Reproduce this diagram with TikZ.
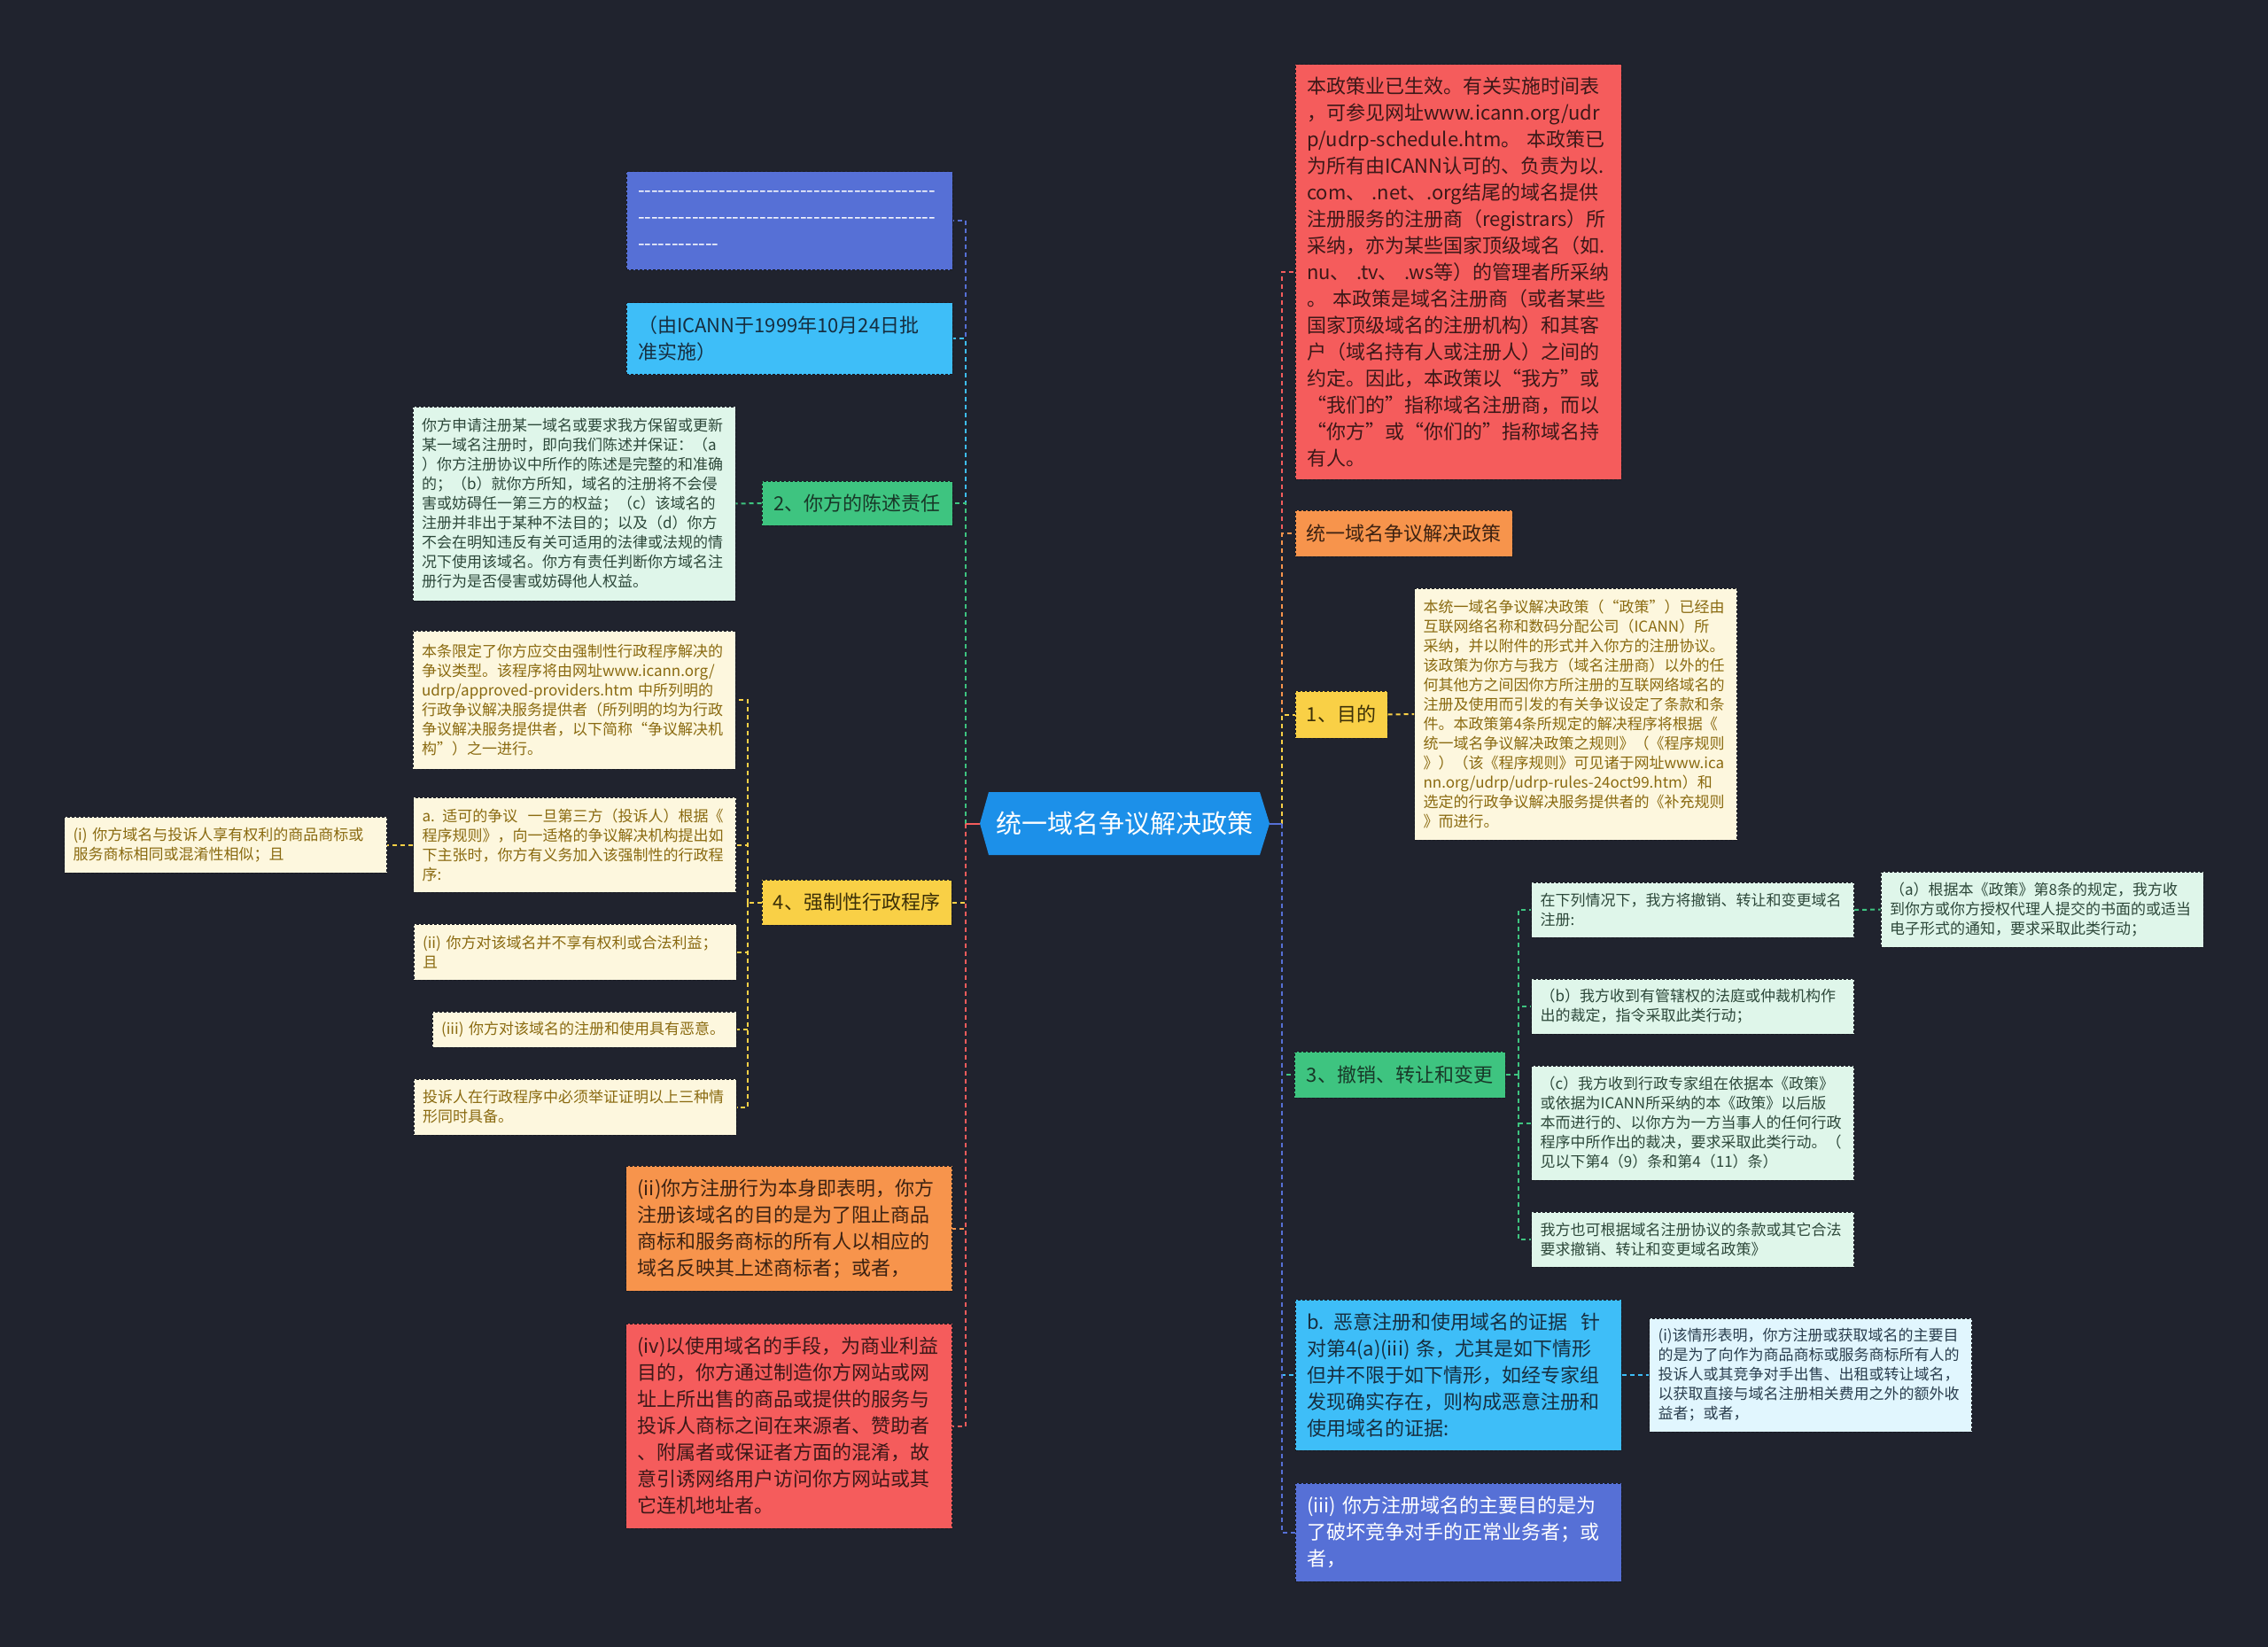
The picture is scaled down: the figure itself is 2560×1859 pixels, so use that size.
\documentclass[tikz,border=0pt]{standalone}
\usepackage{fontspec}
\setmainfont{Noto Sans CJK SC}
\usetikzlibrary{positioning}

\definecolor{cbg}{RGB}{32,35,46}
\definecolor{cedge}{RGB}{24,26,34}
\definecolor{croot}{RGB}{28,144,233}
\definecolor{cblue}{RGB}{86,112,214}
\definecolor{ccyan}{RGB}{62,190,248}
\definecolor{cgreen}{RGB}{62,196,128}
\definecolor{cyellow}{RGB}{249,208,70}
\definecolor{corange}{RGB}{247,148,76}
\definecolor{cred}{RGB}{245,92,92}
\definecolor{lgreen}{RGB}{223,246,234}
\definecolor{lyellow}{RGB}{253,247,222}
\definecolor{lcyan}{RGB}{225,246,254}
\definecolor{tcyan}{RGB}{22,46,64}
\definecolor{tgreen}{RGB}{24,56,40}
\definecolor{tyellow}{RGB}{60,48,8}
\definecolor{torange}{RGB}{60,34,18}
\definecolor{tred}{RGB}{60,24,24}
\definecolor{tlgreen}{RGB}{45,72,58}
\definecolor{tlyellow}{RGB}{138,106,16}
\definecolor{tlcyan}{RGB}{42,62,78}

\newcommand\dashes[1]{\mbox{\foreach \i in {1,...,#1}{-\kern0pt}}}

\begin{document}
\begin{tikzpicture}[x=1pt,y=-1pt,
  box/.style={draw=cedge, dash pattern=on 3pt off 2pt, line width=1pt, inner ysep=0pt, align=left},
  bigbox/.style={box, font={\fontsize{22}{30}\selectfont}, inner xsep=13pt, text width=342pt},
  smallbox/.style={box, font={\fontsize{17}{22}\selectfont}, inner xsep=10pt, text width=344pt},
  tagbox/.style={box, font={\fontsize{22}{30}\selectfont}, align=center, inner xsep=0pt},
  link/.style={line width=2pt, dash pattern=on 5pt off 4pt}]
\useasboundingbox (0,0) rectangle (2560,1859);
\fill[cbg] (0,0) rectangle (2560,1859);

% root
\fill[croot] (1106,929.5) -- (1116,894) -- (1422,894) -- (1433,929.5) -- (1422,965) -- (1116,965) -- cycle;
\node[font={\fontsize{29}{34}\selectfont}, text=white, minimum width=327pt, minimum height=71pt, inner sep=0pt] (root) at (1269.5,929.5) {统一域名争议解决政策};

% left side
\node[bigbox, fill=cblue, text=white, minimum height=111pt] (dash) at (891,249.5) {\dashes{44}\\\dashes{44}\\\dashes{12}};
\node[bigbox, fill=ccyan, text=tcyan, minimum height=81pt] (approve) at (891,382.5) {（由ICANN于1999年10月24日批\\准实施）};
\node[tagbox, fill=cgreen, text=tgreen, minimum width=215pt, minimum height=50pt] (stmt) at (967.5,568) {2、你方的陈述责任};
\node[smallbox, fill=lgreen, text=tlgreen, minimum height=219pt] (stmttxt) at (648,568.5) {你方申请注册某一域名或要求我方保留或更新\\某一域名注册时，即向我们陈述并保证：（a\\）你方注册协议中所作的陈述是完整的和准确\\的；（b）就你方所知，域名的注册将不会侵\\害或妨碍任一第三方的权益；（c）该域名的\\注册并非出于某种不法目的；以及（d）你方\\不会在明知违反有关可适用的法律或法规的情\\况下使用该域名。你方有责任判断你方域名注\\册行为是否侵害或妨碍他人权益。};
\node[tagbox, fill=cyellow, text=tyellow, minimum width=214pt, minimum height=51pt] (admin) at (967,1018.5) {4、强制性行政程序};
\node[smallbox, fill=lyellow, text=tlyellow, minimum height=156pt] (scope) at (648,790) {本条限定了你方应交由强制性行政程序解决的\\争议类型。该程序将由网址www.icann.org/\\udrp/approved-providers.htm 中所列明的\\行政争议解决服务提供者（所列明的均为行政\\争议解决服务提供者，以下简称“争议解决机\\构”）之一进行。};
\node[smallbox, fill=lyellow, text=tlyellow, minimum height=107pt] (disp) at (648.5,953.5) {a. 适可的争议\ \ 一旦第三方（投诉人）根据《\\程序规则》，向一适格的争议解决机构提出如\\下主张时，你方有义务加入该强制性的行政程\\序:};
\node[smallbox, fill=lyellow, text=tlyellow, minimum height=63pt] (same) at (254.5,953.5) {(i) 你方域名与投诉人享有权利的商品商标或\\服务商标相同或混淆性相似；且};
\node[smallbox, fill=lyellow, text=tlyellow, minimum height=63pt] (noright) at (649,1074.5) {(ii) 你方对该域名并不享有权利或合法利益；\\且};
\node[smallbox, fill=lyellow, text=tlyellow, text width=323pt, minimum height=40pt] (badfaith) at (659.5,1162) {(iii) 你方对该域名的注册和使用具有恶意。};
\node[smallbox, fill=lyellow, text=tlyellow, minimum height=63pt] (proof) at (649,1249.5) {投诉人在行政程序中必须举证证明以上三种情\\形同时具备。};
\node[bigbox, fill=corange, text=torange, minimum height=141pt] (block) at (890.5,1386.5) {(ii)你方注册行为本身即表明，你方\\注册该域名的目的是为了阻止商品\\商标和服务商标的所有人以相应的\\域名反映其上述商标者；或者，};
\node[bigbox, fill=cred, text=tred, minimum height=231pt] (confuse) at (890.5,1609.5) {(iv)以使用域名的手段，为商业利益\\目的，你方通过制造你方网站或网\\址上所出售的商品或提供的服务与\\投诉人商标之间在来源者、赞助者\\、附属者或保证者方面的混淆，故\\意引诱网络用户访问你方网站或其\\它连机地址者。};

% right side
\node[bigbox, fill=cred, text=tred, minimum height=468pt] (effect) at (1646,307) {本政策业已生效。有关实施时间表\\，可参见网址www.icann.org/udr\\p/udrp-schedule.htm。 本政策已\\为所有由ICANN认可的、负责为以.\\com、 .net、.org结尾的域名提供\\注册服务的注册商（registrars）所\\采纳，亦为某些国家顶级域名（如.\\nu、 .tv、 .ws等）的管理者所采纳\\。 本政策是域名注册商（或者某些\\国家顶级域名的注册机构）和其客\\户（域名持有人或注册人）之间的\\约定。因此，本政策以“我方”或\\“我们的”指称域名注册商，而以\\“你方”或“你们的”指称域名持\\有人。};
\node[tagbox, fill=corange, text=torange, minimum width=245pt, minimum height=52pt] (policy) at (1584.5,602) {统一域名争议解决政策};
\node[tagbox, fill=cyellow, text=tyellow, minimum width=104pt, minimum height=53pt] (aim) at (1514,806.5) {1、目的};
\node[smallbox, fill=lyellow, text=tlyellow, minimum height=284pt] (aimtxt) at (1778.5,806) {本统一域名争议解决政策（“政策”）已经由\\互联网络名称和数码分配公司（ICANN）所\\采纳，并以附件的形式并入你方的注册协议。\\该政策为你方与我方（域名注册商）以外的任\\何其他方之间因你方所注册的互联网络域名的\\注册及使用而引发的有关争议设定了条款和条\\件。本政策第4条所规定的解决程序将根据《\\统一域名争议解决政策之规则》（《程序规则\\》）（该《程序规则》可见诸于网址www.ica\\nn.org/udrp/udrp-rules-24oct99.htm）和\\选定的行政争议解决服务提供者的《补充规则\\》而进行。};
\node[tagbox, fill=cgreen, text=tgreen, minimum width=238pt, minimum height=52pt] (cancel) at (1580,1213) {3、撤销、转让和变更};
\node[smallbox, fill=lgreen, text=tlgreen, minimum height=62pt] (cases) at (1910.5,1027) {在下列情况下，我方将撤销、转让和变更域名\\注册:};
\node[smallbox, fill=lgreen, text=tlgreen, minimum height=85pt] (casea) at (2305,1026.5) {（a）根据本《政策》第8条的规定，我方收\\到你方或你方授权代理人提交的书面的或适当\\电子形式的通知，要求采取此类行动；};
\node[smallbox, fill=lgreen, text=tlgreen, minimum height=62pt] (caseb) at (1910.5,1136) {（b）我方收到有管辖权的法庭或仲裁机构作\\出的裁定，指令采取此类行动；};
\node[smallbox, fill=lgreen, text=tlgreen, minimum height=129pt] (casec) at (1910.5,1267.5) {（c）我方收到行政专家组在依据本《政策》\\或依据为ICANN所采纳的本《政策》以后版\\本而进行的、以你方为一方当事人的任何行政\\程序中所作出的裁决，要求采取此类行动。（\\见以下第4（9）条和第4（11）条）};
\node[smallbox, fill=lgreen, text=tlgreen, minimum height=62pt] (other) at (1910.5,1399) {我方也可根据域名注册协议的条款或其它合法\\要求撤销、转让和变更域名政策》};
\node[bigbox, fill=ccyan, text=tcyan, minimum height=170pt] (evid) at (1646,1552) {b. 恶意注册和使用域名的证据\ \ 针\\对第4(a)(iii) 条，尤其是如下情形\\但并不限于如下情形，如经专家组\\发现确实存在，则构成恶意注册和\\使用域名的证据:};
\node[smallbox, fill=lcyan, text=tlcyan, minimum height=128pt] (sell) at (2043.5,1552) {(i)该情形表明，你方注册或获取域名的主要目\\的是为了向作为商品商标或服务商标所有人的\\投诉人或其竞争对手出售、出租或转让域名，\\以获取直接与域名注册相关费用之外的额外收\\益者；或者，};
\node[bigbox, fill=cblue, text=white, minimum height=111pt] (disrupt) at (1646,1729.5) {(iii) 你方注册域名的主要目的是为\\了破坏竞争对手的正常业务者；或\\者，};

% connectors
\coordinate (lt) at (1090,929.5);
\coordinate (rt) at (1447,929.5);
\foreach \n/\c in {dash/cblue,approve/ccyan,stmt/cgreen,admin/cyellow,block/corange,confuse/cred}{
  \draw[link,\c,solid] (root.west) -- (lt);
  \draw[link,\c] (lt) |- (\n.east);
}
\foreach \n/\c in {effect/cred,policy/corange,aim/cyellow,cancel/cgreen,evid/ccyan,disrupt/cblue}{
  \draw[link,\c,solid] (root.east) -- (rt);
  \draw[link,\c] (rt) |- (\n.west);
}
\draw[link,cgreen] (stmt.west) -- (stmttxt.east);
\coordinate (at) at (844,1018.5);
\draw[link,cyellow] (admin.west) -- (at);
\foreach \n in {scope,disp,noright,badfaith,proof}
  \draw[link,cyellow] (at) |- (\n.east);
\draw[link,cyellow] (disp.west) -- (same.east);
\draw[link,cyellow] (aim.east) -- (aimtxt.west);
\coordinate (ct) at (1714,1213);
\draw[link,cgreen] (cancel.east) -- (ct);
\foreach \n in {cases,caseb,casec,other}
  \draw[link,cgreen] (ct) |- (\n.west);
\draw[link,cgreen] (cases.east) -- (casea.west);
\draw[link,ccyan] (evid.east) -- (sell.west);
\end{tikzpicture}
\end{document}
